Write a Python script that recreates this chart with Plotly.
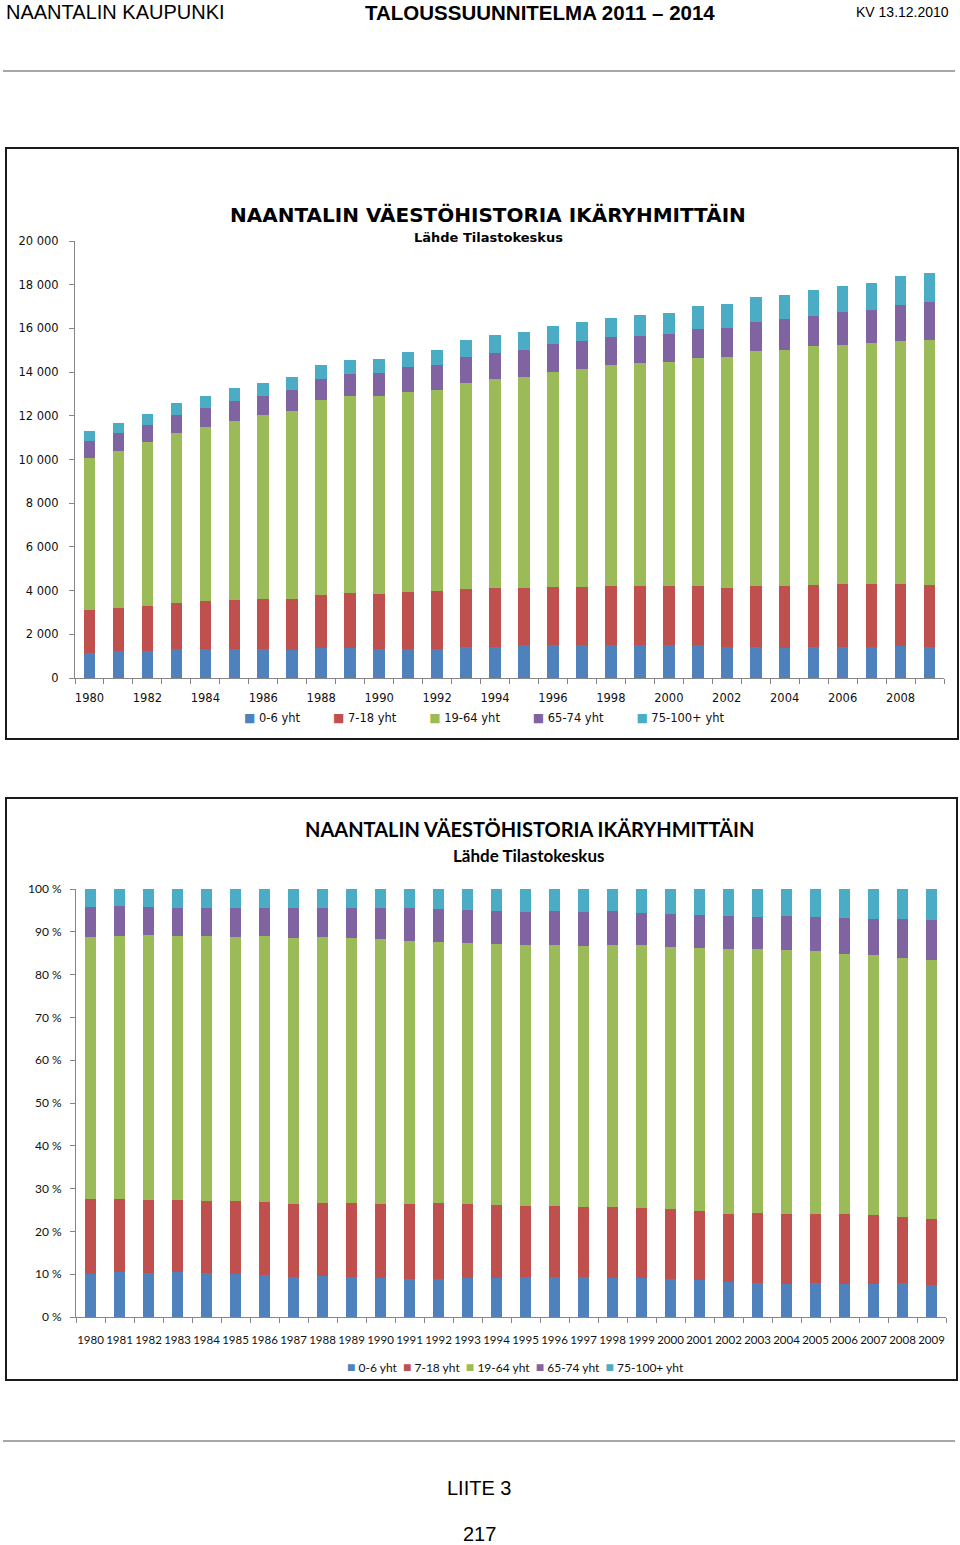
import plotly.graph_objects as go

# ---------------- data ----------------
years = list(range(1980, 2010))
series_names = ["0-6 yht", "7-18 yht", "19-64 yht", "65-74 yht", "75-100+ yht"]

age_0_6 = [1149, 1241, 1241, 1320, 1320, 1320, 1320, 1274, 1366, 1366,
           1320, 1320, 1320, 1398, 1425, 1490, 1517, 1517, 1517, 1517,
           1490, 1490, 1398, 1398, 1366, 1398, 1398, 1398, 1444, 1398]
age_7_18 = [1977, 1977, 2056, 2114, 2193, 2266, 2312, 2358, 2450, 2528,
            2528, 2606, 2680, 2694, 2699, 2634, 2653, 2653, 2699, 2699,
            2726, 2726, 2726, 2818, 2850, 2864, 2910, 2910, 2864, 2864]
age_19_64 = [6929, 7185, 7490, 7765, 7974, 8176, 8391, 8588, 8907, 8998,
             9044, 9163, 9181, 9409, 9546, 9666, 9835, 9958, 10109, 10200,
             10231, 10444, 10567, 10764, 10809, 10932, 10932, 11010, 11129, 11221]
age_65_74 = [792, 824, 792, 838, 870, 900, 883, 945, 976, 1021,
             1067, 1144, 1130, 1190, 1218, 1221, 1281, 1281, 1297, 1252,
             1312, 1313, 1327, 1313, 1405, 1389, 1510, 1524, 1648, 1725]
age_75_plus = [471, 457, 517, 549, 563, 596, 595, 625, 626, 655,
               655, 673, 714, 764, 810, 838, 824, 870, 854, 932,
               960, 1052, 1085, 1130, 1113, 1174, 1205, 1250, 1299, 1341]

abs_tickvals = [0, 2000, 4000, 6000, 8000, 10000, 12000, 14000, 16000, 18000, 20000]
abs_ticktext = ["0", "2 000", "4 000", "6 000", "8 000", "10 000",
                "12 000", "14 000", "16 000", "18 000", "20 000"]
pct_tickvals = [0, 10, 20, 30, 40, 50, 60, 70, 80, 90, 100]
pct_ticktext = ["0 %", "10 %", "20 %", "30 %", "40 %", "50 %",
                "60 %", "70 %", "80 %", "90 %", "100 %"]

title_text = "NAANTALIN VÄESTÖHISTORIA IKÄRYHMITTÄIN"
subtitle_text = "Lähde Tilastokeskus"

# ---------------- styling ----------------
colors = ["#4F81BD", "#C0504D", "#9BBB59", "#8064A2", "#4BACC6"]
W, H = 960, 1545
AX = "#868686"
F1 = "DejaVu Sans"
F2 = "Lato"
HDR = "Liberation Sans Narrow, Liberation Sans, Arial, sans-serif"


def px(x):
    return x / W


def py(y):
    return 1 - y / H


series = [age_0_6, age_7_18, age_19_64, age_65_74, age_75_plus]
totals = [sum(v) for v in zip(*series)]

fig = go.Figure()
for name, vals, col in zip(series_names, series, colors):
    fig.add_trace(go.Bar(x=years, y=vals, name=name, width=0.4,
                         marker=dict(color=col, line=dict(width=0)),
                         xaxis="x", yaxis="y", showlegend=False))
for name, vals, col in zip(series_names, series, colors):
    pct = [v / t * 100 for v, t in zip(vals, totals)]
    fig.add_trace(go.Bar(x=years, y=pct, name=name, width=0.4,
                         marker=dict(color=col, line=dict(width=0)),
                         xaxis="x2", yaxis="y2", showlegend=False))

common_x = dict(showgrid=False, zeroline=False, showline=True, linecolor=AX,
                linewidth=1, ticks="", range=[1979.5, 2009.5], tickangle=0,
                minor=dict(ticks="outside", tick0=1979.5, dtick=1,
                           ticklen=5, tickcolor=AX, tickwidth=1, showgrid=False))
common_y = dict(showgrid=False, zeroline=False, showline=True, linecolor=AX,
                linewidth=1, ticks="outside", ticklen=5, tickcolor=AX,
                tickmode="array")

fig.update_layout(
    width=W, height=H, margin=dict(l=0, r=0, t=0, b=0, autoexpand=False),
    paper_bgcolor="white", plot_bgcolor="white",
    barmode="stack", showlegend=False,
    xaxis=dict(domain=[px(75), px(944)], anchor="y", tickmode="array",
               tickvals=years[::2], ticktext=[str(y) for y in years[::2]],
               tickfont=dict(family=F1, size=11.5, color="#111"),
               ticklabelstandoff=9, **common_x),
    yaxis=dict(domain=[py(678), py(241)], anchor="x", range=[0, 20000],
               tickvals=abs_tickvals, ticktext=abs_ticktext,
               tickfont=dict(family=F1, size=11.5, color="#111"),
               ticklabelstandoff=8, **common_y),
    xaxis2=dict(domain=[px(76), px(946)], anchor="y2", tickmode="array",
                tickvals=years, ticktext=[str(y) for y in years],
                tickfont=dict(family=F2, size=11.5, color="#111"),
                ticklabelstandoff=12, **common_x),
    yaxis2=dict(domain=[py(1317), py(889)], anchor="x2", range=[0, 100],
                tickvals=pct_tickvals, ticktext=pct_ticktext,
                tickfont=dict(family=F2, size=12, color="#111"),
                ticklabelstandoff=6, **common_y),
)

shapes = [
    dict(type="line", xref="paper", yref="paper", x0=px(3), x1=px(955),
         y0=py(71), y1=py(71), line=dict(color="#8a8a8a", width=1.5)),
    dict(type="line", xref="paper", yref="paper", x0=px(3), x1=px(955),
         y0=py(1441), y1=py(1441), line=dict(color="#8a8a8a", width=1.5)),
    dict(type="rect", xref="paper", yref="paper", x0=px(6), x1=px(958),
         y0=py(739), y1=py(148), line=dict(color="#1a1a1a", width=2)),
    dict(type="rect", xref="paper", yref="paper", x0=px(6), x1=px(957),
         y0=py(1380), y1=py(798), line=dict(color="#1a1a1a", width=2)),
]
fig.update_layout(shapes=shapes)


def legend_text(gap_after, sq_size, sq_gap):
    parts = []
    for name, col in zip(series_names, colors):
        parts.append('<span style="color:%s;font-size:%dpx">■</span>%s%s'
                     % (col, sq_size, "&nbsp;" * sq_gap, name))
    return ("&nbsp;" * gap_after).join(parts)


ann = [
    dict(text="NAANTALIN KAUPUNKI", x=px(4), y=py(12), xanchor="left",
         font=dict(family=HDR, size=20, color="#000")),
    dict(text="<b>TALOUSSUUNNITELMA 2011 – 2014</b>", x=px(540), y=py(12),
         xanchor="center", font=dict(family=HDR, size=20.5, color="#000")),
    dict(text="KV 13.12.2010", x=px(951), y=py(12), xanchor="right",
         font=dict(family=HDR, size=14, color="#000")),
    dict(text="<b>" + title_text + "</b>", x=px(488), y=py(215), xanchor="center",
         font=dict(family=F1, size=20, color="#000")),
    dict(text="<b>" + subtitle_text + "</b>", x=px(488.5), y=py(238), xanchor="center",
         font=dict(family=F1, size=13, color="#000")),
    dict(text="<b>" + title_text + "</b>", x=px(529), y=py(829), xanchor="center",
         font=dict(family=F2, size=20, color="#000")),
    dict(text="<b>" + subtitle_text + "</b>", x=px(529), y=py(855), xanchor="center",
         font=dict(family=F2, size=17, color="#000")),
    dict(text=legend_text(9, 12, 1), x=px(484), y=py(718), xanchor="center",
         font=dict(family=F1, size=11.5, color="#111")),
    dict(text=legend_text(2, 14, 1), x=px(515), y=py(1366), xanchor="center",
         font=dict(family=F2, size=12, color="#111")),
    dict(text="LIITE 3", x=px(479), y=py(1488), xanchor="center",
         font=dict(family=HDR, size=20, color="#000")),
    dict(text="217", x=px(479), y=py(1534), xanchor="center",
         font=dict(family=HDR, size=20, color="#000")),
]
for a in ann:
    a.update(xref="paper", yref="paper", yanchor="middle", showarrow=False)
fig.update_layout(annotations=ann)

fig.write_html("out.html",
               config={"displayModeBar": False},
               post_script="document.body.style.margin='0';"
                           "document.body.style.overflow='hidden';")
